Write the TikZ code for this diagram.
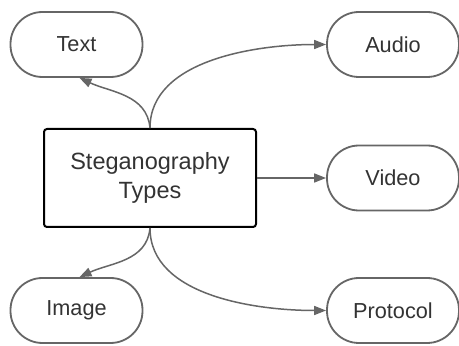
\documentclass[tikz,border=0pt]{standalone}
\usepackage{fontspec}
\setmainfont{Liberation Sans}
\usetikzlibrary{arrows.meta}
\definecolor{edge}{HTML}{666666}
\definecolor{txt}{HTML}{333333}
\tikzset{
  pill/.style={draw=edge, line width=1.8pt, rounded corners=32pt, minimum width=132pt, minimum height=65pt, inner sep=0pt, text=txt, font=\fontsize{21.7}{25}\selectfont},
  mainbox/.style={draw=black, line width=2pt, rounded corners=3pt, minimum width=212pt, minimum height=98pt, inner sep=0pt, text=txt, align=center, font=\fontsize{23.5}{29}\selectfont},
  conn/.style={draw=edge, line width=1.5pt, -{Triangle[length=12pt,width=9pt]}}
}
\begin{document}
\begin{tikzpicture}[x=1pt,y=1pt]
\useasboundingbox (0,0) rectangle (459,346);
\fill[white] (0,0) rectangle (459,346);
\node[mainbox] (main) at (150,168) {Steganography\\Types};
\node[pill] (text) at (76.5,301.5) {Text};
\node[pill] (audio) at (393,301.5) {Audio};
\node[pill] (video) at (393,168) {Video};
\node[pill] (image) at (76.5,35.5) {Image};
\node[pill] (protocol) at (393,35.5) {Protocol};
\draw[conn] (main.north) to[out=95,in=-25] ([xshift=3pt]text.south);
\draw[conn] (main.north) to[out=90,in=180,looseness=0.9] (audio.west);
\draw[conn] (main.east) -- (video.west);
\draw[conn] (main.south) to[out=-95,in=25] ([xshift=3pt]image.north);
\draw[conn] (main.south) to[out=-90,in=180,looseness=0.9] (protocol.west);
\end{tikzpicture}
\end{document}
